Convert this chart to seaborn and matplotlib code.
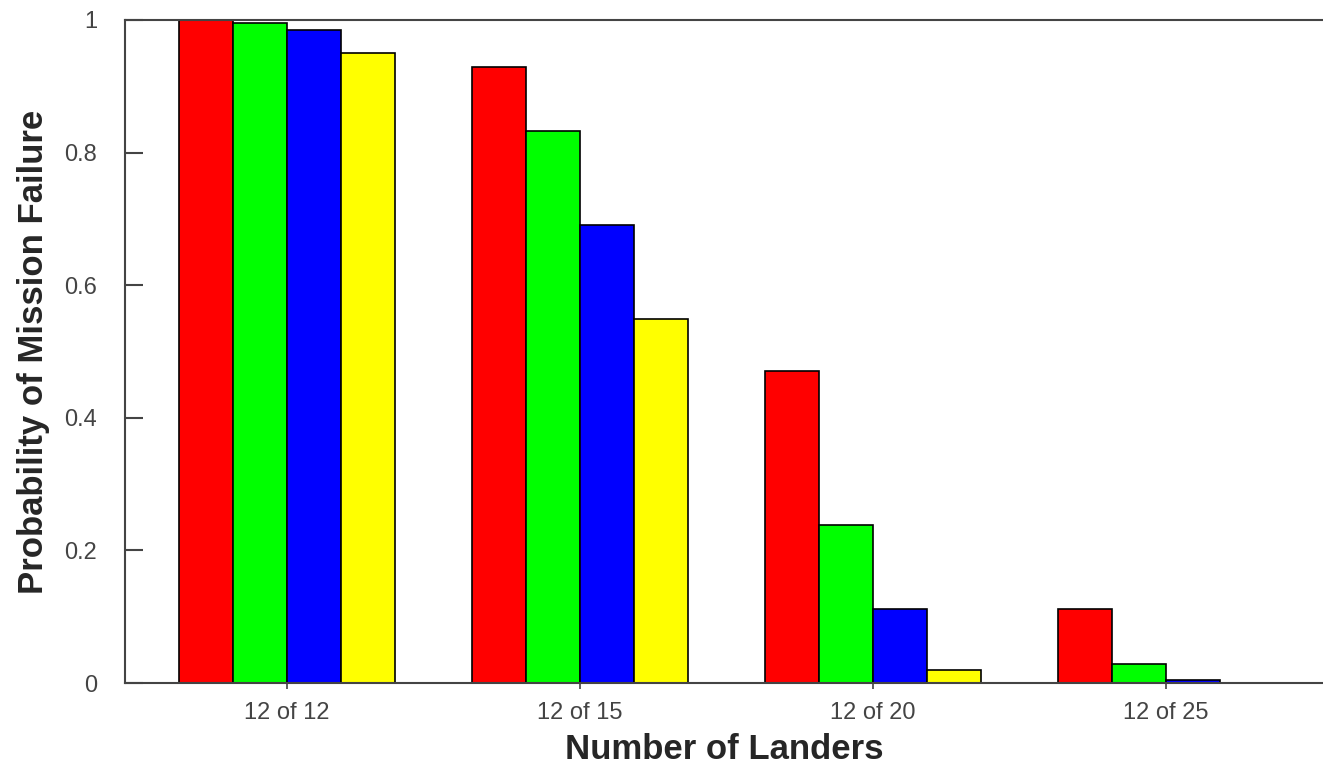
import matplotlib
matplotlib.use("Agg")
import matplotlib.pyplot as plt
import seaborn as sns
import pandas as pd

# values
landers = ["12 of 12", "12 of 15", "12 of 20", "12 of 25"]
series = ["Case 1", "Case 2", "Case 3", "Case 4"]
case1 = [1.000, 0.929, 0.471, 0.112]
case2 = [0.995, 0.833, 0.238, 0.029]
case3 = [0.985, 0.691, 0.112, 0.005]
case4 = [0.950, 0.549, 0.020, 0.0]
colors = ["#ff0000", "#00ff00", "#0000ff", "#ffff00"]

rows = []
for name, vals in zip(series, [case1, case2, case3, case4]):
    for cat, v in zip(landers, vals):
        rows.append({"landers": cat, "case": name, "prob": v})
df = pd.DataFrame(rows)

sns.set_style("ticks")
plt.rcParams["font.family"] = ["Liberation Sans", "DejaVu Sans"]

fig = plt.figure(figsize=(13.23, 7.75), dpi=100)
ax = fig.add_axes([0.0945, 0.1187, 0.9055, 0.8555])

sns.barplot(data=df, x="landers", y="prob", hue="case", palette=colors,
            order=landers, hue_order=series, width=0.74, edgecolor="black",
            linewidth=1.2, saturation=1, legend=False, ax=ax)

# drop the zero-height bar so no stray outline shows
for p in ax.patches:
    if p.get_height() == 0:
        p.set_visible(False)

ax.set_ylim(0, 1)
ax.set_xlim(-0.553, 3.536)
ax.set_yticks([0, 0.2, 0.4, 0.6, 0.8, 1])
ax.set_yticklabels(["0", "0.2", "0.4", "0.6", "0.8", "1"])

for side in ["left", "top", "bottom"]:
    ax.spines[side].set_visible(True)
    ax.spines[side].set_color("#444444")
    ax.spines[side].set_linewidth(1.5)
ax.spines["right"].set_visible(False)

ax.yaxis.set_ticks_position("left")
ax.tick_params(axis="y", which="major", direction="in", length=13, width=1.5,
               color="#444444", labelsize=17, labelcolor="#444444", pad=20)
ax.tick_params(axis="x", which="major", direction="out", length=4, width=1.2,
               color="#444444", labelsize=17, labelcolor="#444444", pad=10)

ax.set_xlabel("Number of Landers", fontsize=25, fontweight="bold", labelpad=6)
ax.set_ylabel("Probability of Mission Failure", fontsize=25, fontweight="bold", labelpad=10)

fig.savefig("out.png", dpi=100)
